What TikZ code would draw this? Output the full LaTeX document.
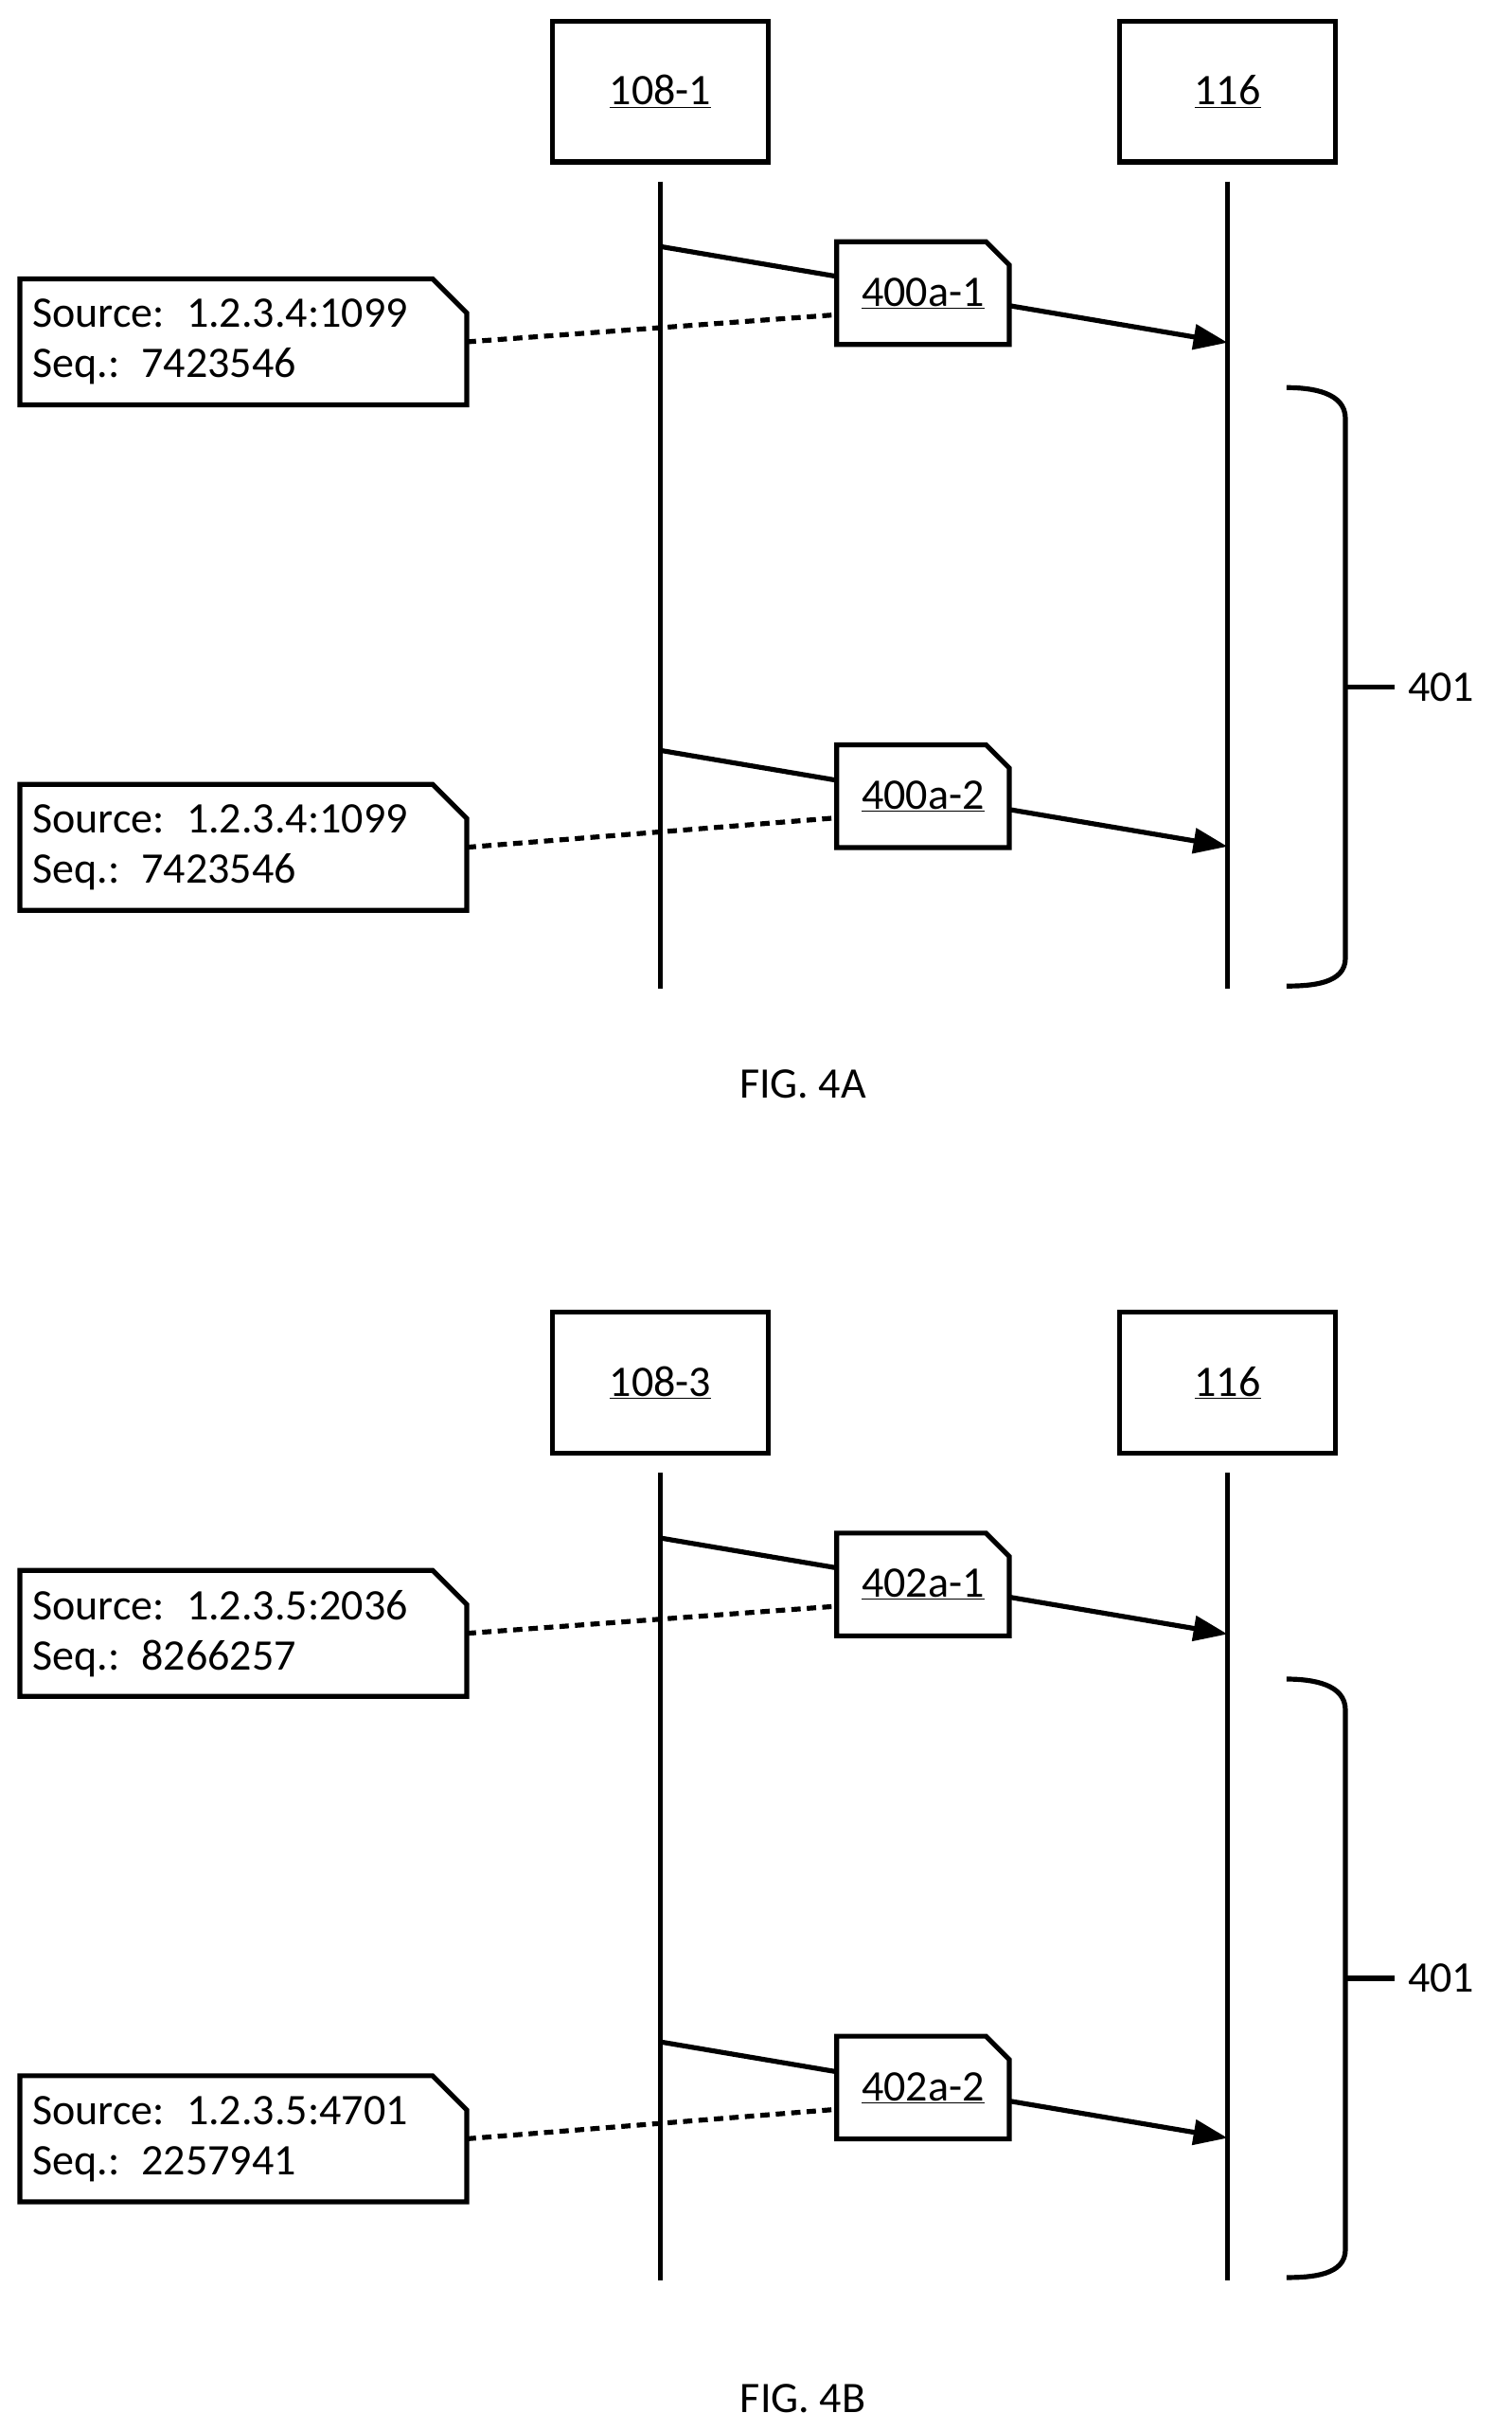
\documentclass[tikz,border=0pt]{standalone}
\usepackage{fontspec}
\setmainfont{Carlito}
\usetikzlibrary{arrows.meta,positioning}
\tikzset{
  big/.style={font=\fontsize{40}{46}\selectfont},
  actor/.style={draw, line width=4.5pt, minimum width=6.95cm, minimum height=4.55cm, big},
  life/.style={line width=4.5pt},
  msg/.style={line width=4.5pt, -{Triangle[length=1.1cm,width=0.8cm]}},
  link/.style={line width=4.5pt, dash pattern=on 0.3cm off 0.2cm},
  tagbox/.style={minimum width=5.55cm, minimum height=3.3cm, inner sep=0pt, big},
  note/.style={minimum width=14.4cm, minimum height=4.05cm, text width=13.6cm, align=left, inner sep=0.4cm, big},
}
% chamfered outline round a node
\newcommand{\chamfer}[2]{%
  \draw[line width=4.5pt, fill=white] (#1.south west) -- (#1.north west)
    -- ([xshift=-#2]#1.north east) -- ([yshift=-#2]#1.north east)
    -- (#1.south east) -- cycle;}
% one sequence figure
\newcommand{\seqfig}[9]{%
  \node[actor] (src) at (426,59) {\underline{#1}};
  \node[actor] (dst) at (792,59) {\underline{116}};
  \coordinate (srcend) at (426,638);
  \coordinate (dstend) at (792,638);
  \draw[life] (426,117) -- (srcend);
  \draw[life] (792,117) -- (dstend);
  \coordinate (s1) at (426,159); \coordinate (d1) at (792,221);
  \coordinate (s2) at (426,484); \coordinate (d2) at (792,546);
  \draw[msg] (s1) -- (d1);
  \draw[msg] (s2) -- (d2);
  \node[tagbox] (tagA) at (595.5,189) {};
  \chamfer{tagA}{0.75cm}
  \node[tagbox] at (tagA) {\underline{#2}};
  \node[tagbox] (tagB) at (595.5,513.5) {};
  \chamfer{tagB}{0.75cm}
  \node[tagbox] at (tagB) {\underline{#3}};
  \node[note] (noteA) at (157,220.5) {};
  \chamfer{noteA}{1.1cm}
  \node[note] at (noteA) {Source: #4\\Seq.: #5};
  \node[note] (noteB) at (157,546.5) {};
  \chamfer{noteB}{1.1cm}
  \node[note] at (noteB) {Source: #6\\Seq.: #7};
  \draw[link] (noteA.east) -- ([yshift=-0.7cm]tagA.west);
  \draw[link] (noteB.east) -- ([yshift=-0.7cm]tagB.west);
  % brace
  \coordinate (tip) at (900,443);
  \draw[line width=4.5pt] (830,250) to[out=0,in=90] (868,270) -- (868,618)
    to[out=-90,in=0] (830,636);
  \draw[line width=4.5pt] (868,443) -- (tip);
  \node[big, right=0.3cm of tip] (brlabel) {401};
  \node[big] (cap) at (518,#8) {#9};
}
\begin{document}
\begin{tikzpicture}[x=0.05cm, y=-0.05cm]
  \useasboundingbox (0,0) rectangle (975,1568);
  \begin{scope}
    \seqfig{108-1}{400a-1}{400a-2}{1.2.3.4:1099}{7423546}{1.2.3.4:1099}{7423546}{699}{FIG. 4A}
  \end{scope}
  \begin{scope}[yshift=-833*0.05cm]
    \seqfig{108-3}{402a-1}{402a-2}{1.2.3.5:2036}{8266257}{1.2.3.5:4701}{2257941}{714}{FIG. 4B}
  \end{scope}
\end{tikzpicture}
\end{document}
